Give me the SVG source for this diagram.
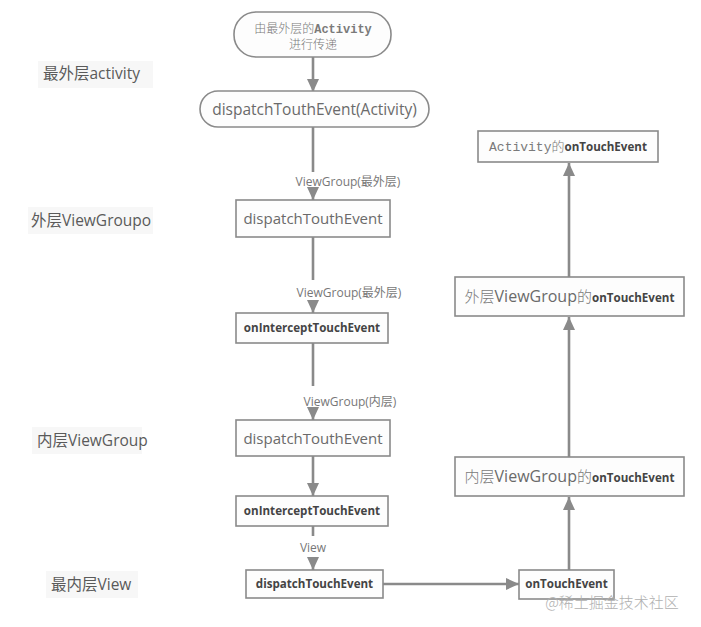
<svg xmlns="http://www.w3.org/2000/svg" width="701" height="627" viewBox="0 0 701 627">
<style>
.box{fill:#fdfdfd;stroke:#8a8a8a;stroke-width:1.6}
.ln{fill:none;stroke:#8a8a8a;stroke-width:2.6}
.t{font-family:"Open Sans","Noto Sans CJK SC",sans-serif;fill:#6a6a6a}
.b{font-family:"Open Sans","Noto Sans CJK SC",sans-serif;fill:#444;font-weight:bold;font-size:11.6px}
.cjk{font-family:"Noto Sans CJK SC",sans-serif;fill:#7a7a7a;font-weight:300}
.mono{font-family:"Liberation Mono",monospace;fill:#7a7a7a}
.lbl{font-family:"Open Sans","Noto Sans CJK SC",sans-serif;fill:#777;font-size:12px}
.side{font-family:"Open Sans","Noto Sans CJK SC",sans-serif;fill:#5a5a5a;font-size:15.5px}
.sbg{fill:#f7f7f7}
</style>
<defs>
<marker id="ah" markerUnits="userSpaceOnUse" markerWidth="14" markerHeight="12" viewBox="0 0 14 12" refX="13" refY="6" orient="auto">
<path d="M0,0 L13,6 L0,12 Z" fill="#8a8a8a"/>
</marker>
</defs>
<rect width="701" height="627" fill="#ffffff"/>

<g id="side-labels">
<rect class="sbg" x="38" y="61" width="115" height="27"/>
<text class="side" x="43" y="79">最外层activity</text>
<rect class="sbg" x="28" y="207" width="125" height="27"/>
<text class="side" x="31" y="226">外层ViewGroupo</text>
<rect class="sbg" x="32" y="427" width="110" height="27"/>
<text class="side" x="37" y="446">内层ViewGroup</text>
<rect class="sbg" x="46" y="571" width="92" height="27"/>
<text class="side" x="51" y="590">最内层View</text>
</g>

<g id="connectors">
<path class="ln" d="M313,57 L313,92" marker-end="url(#ah)"/>
<path class="ln" d="M313,127 L313,172"/>
<text class="lbl" x="348" y="186" text-anchor="middle">ViewGroup(最外层)</text>
<path class="ln" d="M313,190 L313,200" marker-end="url(#ah)"/>
<path class="ln" d="M313,237 L313,280"/>
<text class="lbl" x="349" y="297" text-anchor="middle">ViewGroup(最外层)</text>
<path class="ln" d="M313,302 L313,313" marker-end="url(#ah)"/>
<path class="ln" d="M313,343 L313,386"/>
<text class="lbl" x="350" y="406" text-anchor="middle">ViewGroup(内层)</text>
<path class="ln" d="M313,408 L313,420" marker-end="url(#ah)"/>
<path class="ln" d="M313,456 L313,496" marker-end="url(#ah)"/>
<path class="ln" d="M313,526 L313,536"/>
<text class="lbl" x="313" y="552" text-anchor="middle">View</text>
<path class="ln" d="M313,558 L313,570" marker-end="url(#ah)"/>
<path class="ln" d="M383,584 L519,584" marker-end="url(#ah)"/>
<path class="ln" d="M569,570 L569,497" marker-end="url(#ah)"/>
<path class="ln" d="M569,457 L569,317" marker-end="url(#ah)"/>
<path class="ln" d="M569,277 L569,163" marker-end="url(#ah)"/>
</g>

<g id="n-start">
<rect class="box" x="234" y="12" width="157" height="45" rx="22"/>
<text x="313" y="33" text-anchor="middle" font-size="12"><tspan class="cjk">由最外层的</tspan><tspan class="mono" font-weight="bold">Activity</tspan></text>
<text class="cjk" x="313" y="49" text-anchor="middle" font-size="12">进行传递</text>
</g>

<g id="n-act-dispatch">
<rect class="box" x="200" y="91" width="229" height="36" rx="18"/>
<text class="t" x="314.5" y="115" text-anchor="middle" font-size="15.5">dispatchTouthEvent(Activity)</text>
</g>

<g id="n-vg1-dispatch">
<rect class="box" x="236" y="200" width="154" height="37"/>
<text class="t" x="313" y="224" text-anchor="middle" font-size="15">dispatchTouthEvent</text>
</g>

<g id="n-vg1-intercept">
<rect class="box" x="236" y="313" width="152" height="30"/>
<text class="b" x="312" y="332" text-anchor="middle">onInterceptTouchEvent</text>
</g>

<g id="n-vg2-dispatch">
<rect class="box" x="236" y="420" width="154" height="36"/>
<text class="t" x="313" y="444" text-anchor="middle" font-size="15">dispatchTouthEvent</text>
</g>

<g id="n-vg2-intercept">
<rect class="box" x="236" y="496" width="152" height="30"/>
<text class="b" x="312" y="515" text-anchor="middle">onInterceptTouchEvent</text>
</g>

<g id="n-view-dispatch">
<rect class="box" x="246" y="570" width="137" height="28"/>
<text class="b" x="314.5" y="588" text-anchor="middle">dispatchTouchEvent</text>
</g>

<g id="n-view-ontouch">
<rect class="box" x="519" y="570" width="95" height="29"/>
<text class="b" x="566.5" y="588" text-anchor="middle">onTouchEvent</text>
</g>

<g id="n-vg2-ontouch">
<rect class="box" x="455" y="457" width="229" height="39"/>
<text x="569.5" y="482" text-anchor="middle"><tspan class="cjk" font-size="15">内层</tspan><tspan class="t" font-size="16">ViewGroup</tspan><tspan class="cjk" font-size="15">的</tspan><tspan class="b">onTouchEvent</tspan></text>
</g>

<g id="n-vg1-ontouch">
<rect class="box" x="455" y="277" width="229" height="39"/>
<text x="569.5" y="302" text-anchor="middle"><tspan class="cjk" font-size="15">外层</tspan><tspan class="t" font-size="16">ViewGroup</tspan><tspan class="cjk" font-size="15">的</tspan><tspan class="b">onTouchEvent</tspan></text>
</g>

<g id="n-act-ontouch">
<rect class="box" x="478" y="131" width="180" height="31"/>
<text x="568" y="151" text-anchor="middle"><tspan class="mono" font-size="13">Activity</tspan><tspan class="cjk" font-size="13">的</tspan><tspan class="b">onTouchEvent</tspan></text>
</g>

<text x="612" y="608" text-anchor="middle" font-family="Noto Sans CJK SC,sans-serif" font-size="15" fill="#b0b0b0" font-weight="300">@稀土掘金技术社区</text>
</svg>
